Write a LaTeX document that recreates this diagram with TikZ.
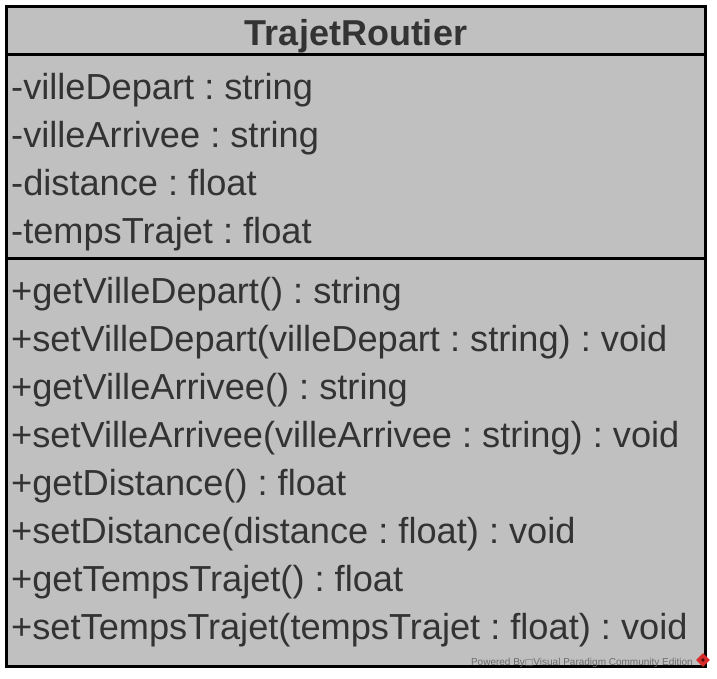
\documentclass[tikz,border=0pt]{standalone}
\usepackage{fontspec}
\setmainfont{Liberation Sans}
\newfontfamily\symfont{DejaVu Sans}
\usetikzlibrary{shapes.geometric}
\definecolor{boxgray}{HTML}{C0C0C0}
\definecolor{txtgray}{HTML}{333333}
\definecolor{wmgray}{HTML}{6A6A6A}
\definecolor{logored}{HTML}{D82A2A}
\frenchspacing
\begin{document}
\begin{tikzpicture}[x=1pt,y=-1pt,
  classbox/.style={draw=black, line width=3pt, fill=boxgray, inner sep=0pt, minimum width=699pt, minimum height=660pt},
  sepline/.style={draw=black, line width=3pt},
  member/.style={anchor=base west, inner sep=0pt, text=txtgray, font=\fontsize{36.2}{36}\selectfont\frenchspacing},
  classtitle/.style={anchor=base, inner sep=0pt, text=txtgray, font=\fontsize{36}{36}\selectfont\bfseries},
  watermark/.style={anchor=base east, inner sep=0pt, text=wmgray, font=\fontsize{10}{10}\selectfont},
  logo/.style={diamond, fill=logored, inner sep=0pt, minimum size=14pt}]
\useasboundingbox (0,0) rectangle (717,678);
\node[classbox] (cls) at (355.5,336) {};
\coordinate (s1l) at (6,54);
\coordinate (s1r) at (705,54);
\coordinate (s2l) at (6,258);
\coordinate (s2r) at (705,258);
\draw[sepline] (s1l) -- (s1r);
\draw[sepline] (s2l) -- (s2r);
\node[classtitle] (title) at (356,45) {TrajetRoutier};
\node[member] (a1) at (11,99) {-villeDepart : string};
\node[member] (a2) at (11,147) {-villeArrivee : string};
\node[member] (a3) at (11,195) {-distance : float};
\node[member] (a4) at (11,243) {-tempsTrajet : float};
\node[member] (m1) at (11,303) {+getVilleDepart() : string};
\node[member] (m2) at (11,351) {+setVilleDepart(villeDepart : string) : void};
\node[member] (m3) at (11,399) {+getVilleArrivee() : string};
\node[member] (m4) at (11,447) {+setVilleArrivee(villeArrivee : string) : void};
\node[member] (m5) at (11,495) {+getDistance() : float};
\node[member] (m6) at (11,543) {+setDistance(distance : float) : void};
\node[member] (m7) at (11,591) {+getTempsTrajet() : float};
\node[member] (m8) at (11,639) {+setTempsTrajet(tempsTrajet : float) : void};
\node[watermark] (wm) at (693,665) {Powered By{\symfont\fontsize{9}{9}\selectfont □}Visual Paradigm Community Edition};
\node[logo] (lg) at (703,660) {};
\node[diamond, fill=black!65!logored, inner sep=0pt, minimum size=4pt] (lgc) at (lg.center) {};
\end{tikzpicture}
\end{document}
